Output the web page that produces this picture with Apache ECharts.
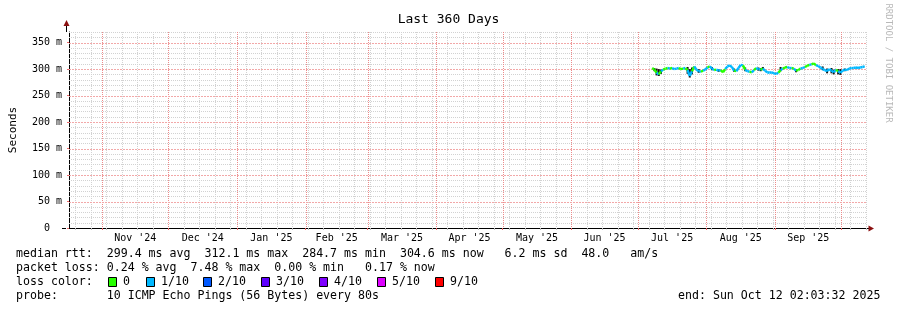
<!DOCTYPE html>
<html><head><meta charset="utf-8">
<script src="https://cdn.jsdelivr.net/npm/echarts@6/dist/echarts.min.js"></script>
<style>html,body{margin:0;padding:0;background:#fff}#c{width:897px;height:310px}</style>
</head><body><div id="c"></div>
<script>
const FONT = '"DejaVu Sans Mono", monospace';
const DAY = 86400000;
const graphStart = Date.UTC(2024, 9, 17, 2, 3, 32);
const graphEnd = Date.UTC(2025, 9, 12, 2, 3, 32);
const titleText = 'Last 360 Days';
const yAxisName = 'Seconds';
const monthLabels = ["Nov '24", "Dec '24", "Jan '25", "Feb '25", "Mar '25", "Apr '25", "May '25", "Jun '25", "Jul '25", "Aug '25", "Sep '25"];
const yMax = 370;
const yInterval = 50;

// one sample per day starting at dataStart
const dataStart = Date.UTC(2025, 6, 7, 12, 0, 0);
const medianRtt = [
  302,299,293,290,296,299,301,302,301,302,300,301,302,300,301,302,
  298,287,296,305,299,296,295,297,299,303,305,301,298,299,297,298,
  294,300,305,307,304,297,296,302,308,307,299,296,295,294,298,302,
  300,299,301,297,294,293,294,292,291,293,298,301,303,304,302,302,
  301,297,298,301,302,304,306,308,309,311,307,306,303,300,298,296,
  300,297,294,299,296,293,297,299,298,301,302,302,303,302,303,304,305
];
const lossTenths = [
  0,0,1,0,1,0,0,1,0,1,1,1,0,0,1,0,
  1,1,0,1,1,1,0,1,1,0,1,1,0,1,1,0,
  0,1,1,1,1,0,1,1,1,0,1,1,0,1,0,1,
  1,0,1,1,1,1,1,1,1,0,1,0,0,1,1,0,
  1,0,0,1,1,0,0,1,0,0,1,1,1,1,1,1,
  1,1,1,0,1,1,1,1,1,1,1,1,1,1,1,1,1
];
// smoke (spread) samples: index into daily samples, low, high (ms)
const smokeIdx  = [1,2,3,4,16,17,18,21,27,30,37,42,48,49,50,58,65,77,79,81,82,84,85,87];
const smokeLow  = [296,288,287,291,291,284,290,293,298,295,295,296,297,296,298,296,294,298,292,292,290,290,289,296];
const smokeHigh = [302,301,300,299,304,300,303,300,304,300,301,303,303,302,304,304,300,305,301,302,299,300,300,301];

const lossLegend = ['0', '1/10', '2/10', '3/10', '4/10', '5/10', '9/10'];
const lossColors = ['#26ff00', '#00b8ff', '#0059ff', '#5e00ff', '#7e00ff', '#dd00ff', '#ff0000'];
const lossColorByTenth = {0:'#26ff00',1:'#00b8ff',2:'#0059ff',3:'#5e00ff',4:'#7e00ff',5:'#dd00ff',9:'#ff0000'};

const statLines = [
  'median rtt:  299.4 ms avg  312.1 ms max  284.7 ms min  304.6 ms now   6.2 ms sd  48.0   am/s',
  'packet loss: 0.24 % avg  7.48 % max  0.00 % min   0.17 % now',
  'loss color:',
  'probe:       10 ICMP Echo Pings (56 Bytes) every 80s'
];
const endText = 'end: Sun Oct 12 02:03:32 2025';
const creditText = 'RRDTOOL / TOBI OETIKER';

// ---- derived ----
const dayOf = ms => (ms - graphStart) / DAY;
const xMax = dayOf(graphEnd);
const monthStarts = [];
for (let i = 0; i <= 11; i++) monthStarts.push(Date.UTC(2024, 10 + i, 1));
const monthStartDays = monthStarts.map(dayOf).filter(d => d > 0 && d < xMax);
const monthMidDays = [];
for (let i = 0; i < 11; i++) monthMidDays.push(dayOf((monthStarts[i] + monthStarts[i + 1]) / 2));
const weekDays = [];
for (let t = Date.UTC(2024, 9, 20); t < graphEnd; t += 7 * DAY) weekDays.push(dayOf(t));

const sampleDay = i => dayOf(dataStart + i * DAY);
const segData = [];
for (let i = 0; i < medianRtt.length - 1; i++) {
  segData.push([sampleDay(i), medianRtt[i], sampleDay(i + 1), medianRtt[i + 1], lossTenths[i]]);
}
const smokeData = smokeIdx.map((k, j) => [sampleDay(k), smokeLow[j], smokeHigh[j]]);

const minorY = [];
for (let v = 10; v <= yMax; v += 10) if (v % 50 !== 0) minorY.push(v);
const majorY = [];
for (let v = 50; v <= 350; v += 50) majorY.push(v);

const chart = echarts.init(document.getElementById('c'), null, {renderer: 'canvas'});

const graphics = [
  {type: 'text', left: 'center', top: 13, style: {text: titleText, font: '13px ' + FONT, fill: '#000'}},
  {type: 'text', x: 888, y: 63, rotation: -Math.PI / 2,
   style: {text: creditText, font: '9px ' + FONT, fill: '#b8b8b8', align: 'center', verticalAlign: 'middle'}},
  {type: 'line', shape: {x1: 66.5, y1: 32, x2: 66.5, y2: 24}, style: {stroke: '#000', lineWidth: 1}},
  {type: 'polygon', shape: {points: [[66.5, 20], [63.5, 26], [69.5, 26]]}, style: {fill: '#8b1010'}},
  {type: 'line', shape: {x1: 866, y1: 228.5, x2: 870, y2: 228.5}, style: {stroke: '#000', lineWidth: 1}},
  {type: 'polygon', shape: {points: [[874, 228.5], [868.5, 225.5], [868.5, 231.5]]}, style: {fill: '#8b1010'}},
  {type: 'line', shape: {x1: 62, y1: 228.5, x2: 66, y2: 228.5}, style: {stroke: '#000', lineWidth: 1}},
  {type: 'text', x: 678, y: 296, style: {text: endText, font: '11.6px ' + FONT, fill: '#000', verticalAlign: 'middle'}}
];
const rowY = [254, 268, 282, 296];
statLines.forEach((s, i) => graphics.push({type: 'text', x: 16, y: rowY[i],
  style: {text: s, font: '11.6px ' + FONT, fill: '#000', verticalAlign: 'middle'}}));
const sqX = [108, 146, 203, 261, 319, 377, 435];
lossLegend.forEach((lab, i) => {
  graphics.push({type: 'rect', shape: {x: sqX[i] + 0.5, y: 277.5, width: 8, height: 9},
    style: {fill: lossColors[i], stroke: '#000', lineWidth: 1}});
  graphics.push({type: 'text', x: sqX[i] + 15, y: 282,
    style: {text: lab, font: '11.6px ' + FONT, fill: '#000', verticalAlign: 'middle'}});
});

function gridSeries(values, vertical, color, dash, z) {
  return {
    type: 'custom', z: z, silent: true, clip: false,
    data: values.map(v => [v, v]),
    encode: {x: 0, y: 1},
    renderItem: (params, api) => {
      const cs = params.coordSys;
      const val = api.value(0);
      const style = {stroke: color, lineWidth: 1, lineDash: dash};
      if (vertical) {
        const x = Math.round(api.coord([val, 0])[0]) + 0.5;
        return {type: 'line', shape: {x1: x, y1: cs.y, x2: x, y2: cs.y + cs.height}, style};
      }
      const y = Math.round(api.coord([0, val])[1]) + 0.5;
      return {type: 'line', shape: {x1: cs.x, y1: y, x2: cs.x + cs.width, y2: y}, style};
    }
  };
}

chart.setOption({
  animation: false,
  backgroundColor: '#ffffff',
  grid: {left: 66, right: 31, top: 32, bottom: 82, containLabel: false},
  xAxis: [{
    type: 'value', min: 0, max: xMax,
    axisLine: {show: true, lineStyle: {color: '#000', width: 1}},
    splitLine: {show: false},
    axisTick: {show: true, customValues: weekDays, length: 2, lineStyle: {color: '#bbbbbb'}},
    axisLabel: {show: true, customValues: monthMidDays, margin: 5,
      fontFamily: FONT, fontSize: 10, color: '#000',
      formatter: v => {
        let best = 0;
        monthMidDays.forEach((d, i) => { if (Math.abs(d - v) < Math.abs(monthMidDays[best] - v)) best = i; });
        return monthLabels[best];
      }}
  }, {
    type: 'value', min: 0, max: xMax, position: 'bottom',
    axisLine: {show: false}, splitLine: {show: false},
    axisTick: {show: true, customValues: monthStartDays, length: 2, lineStyle: {color: '#ee6666'}},
    axisLabel: {show: false}
  }],
  yAxis: {
    type: 'value', min: 0, max: yMax, interval: yInterval,
    name: yAxisName, nameLocation: 'middle', nameRotate: 90, nameGap: 50,
    nameTextStyle: {fontFamily: FONT, fontSize: 11, color: '#000'},
    axisLine: {show: true, lineStyle: {color: '#000', width: 1}},
    axisTick: {show: true, length: 2, lineStyle: {color: '#ee6666'}},
    splitLine: {show: false},
    axisLabel: {margin: 7, fontFamily: FONT, fontSize: 10, color: '#000', showMaxLabel: false,
      formatter: v => v === 0 ? '0  ' : v + ' m'}
  },
  series: [
    gridSeries(weekDays, true, '#d2d2d2', [1, 1], 1),
    gridSeries(minorY, false, '#d2d2d2', [1, 1], 1),
    gridSeries(monthStartDays, true, '#ec8a8a', [1, 1], 2),
    gridSeries(majorY, false, '#f2a8a8', [2, 1], 2),
    {type: 'custom', z: 3, silent: true, data: smokeData,
     encode: {x: 0, y: [1, 2]},
     renderItem: (params, api) => {
       const a = api.coord([api.value(0), api.value(1)]);
       const b = api.coord([api.value(0), api.value(2)]);
       return {type: 'line', shape: {x1: a[0], y1: a[1], x2: b[0], y2: b[1]},
         style: {stroke: '#151515', lineWidth: 2}};
     }},
    {type: 'custom', z: 4, silent: true, data: segData,
     encode: {x: [0, 2], y: [1, 3]},
     renderItem: (params, api) => {
       const a = api.coord([api.value(0), api.value(1)]);
       const b = api.coord([api.value(2), api.value(3)]);
       return {type: 'line', shape: {x1: a[0], y1: a[1], x2: b[0], y2: b[1]},
         style: {stroke: lossColorByTenth[api.value(4)], lineWidth: 2.4}};
     }}
  ],
  graphic: graphics
});
</script></body></html>
